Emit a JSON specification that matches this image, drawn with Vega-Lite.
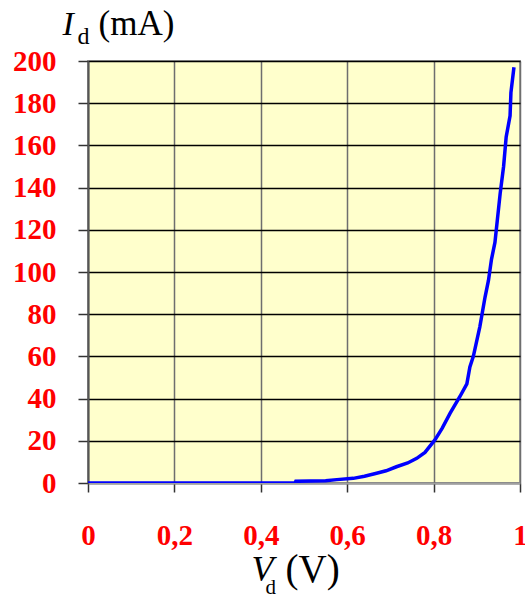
{
  "$schema": "https://vega.github.io/schema/vega-lite/v6.json",
  "width": 432,
  "height": 422,
  "autosize": {"type": "none"},
  "padding": {"left": 88, "top": 61, "right": 5, "bottom": 111},
  "background": "white",
  "config": {
    "view": {"fill": "#FFFFCC", "stroke": "#A0A0A0", "strokeWidth": 2},
    "axis": {"titleFont": "Liberation Serif", "labelFont": "Liberation Serif"}
  },
  "data": {
    "values": [
      {"v": 0, "i": 0},
      {"v": 0.2, "i": 0},
      {"v": 0.4, "i": 0},
      {"v": 0.479, "i": 0},
      {"v": 0.481, "i": 0.8},
      {"v": 0.55, "i": 1.1},
      {"v": 0.576, "i": 1.6},
      {"v": 0.614, "i": 2.2},
      {"v": 0.64, "i": 3.2},
      {"v": 0.668, "i": 4.6},
      {"v": 0.69, "i": 5.8},
      {"v": 0.714, "i": 7.7},
      {"v": 0.74, "i": 9.5},
      {"v": 0.761, "i": 11.7},
      {"v": 0.78, "i": 14.5},
      {"v": 0.803, "i": 20.4},
      {"v": 0.82, "i": 26},
      {"v": 0.838, "i": 33},
      {"v": 0.861, "i": 41},
      {"v": 0.877, "i": 47},
      {"v": 0.884, "i": 55},
      {"v": 0.892, "i": 60},
      {"v": 0.907, "i": 74},
      {"v": 0.919, "i": 88},
      {"v": 0.927, "i": 96},
      {"v": 0.934, "i": 106},
      {"v": 0.942, "i": 114},
      {"v": 0.954, "i": 137},
      {"v": 0.962, "i": 150},
      {"v": 0.968, "i": 164},
      {"v": 0.977, "i": 174},
      {"v": 0.979, "i": 185},
      {"v": 0.986, "i": 197}
    ]
  },
  "resolve": {"scale": {"x": "independent", "y": "independent"}},
  "layer": [
    {
      "mark": {"type": "line", "color": "#0000FF", "strokeWidth": 3.5, "clip": true},
      "encoding": {
        "x": {
          "field": "v", "type": "quantitative",
          "scale": {"domain": [0, 1], "nice": false, "zero": false},
          "axis": {
            "orient": "bottom",
            "values": [0, 0.2, 0.4, 0.6, 0.8, 1],
            "labelExpr": "replace(format(datum.value, '~g'), '.', ',')",
            "labelColor": "#FF0000", "labelFontSize": 29, "labelFontWeight": "bold",
            "labelPadding": 29, "labelBaseline": "top", "labelFlush": false,
            "ticks": true, "tickSize": 9, "tickColor": "#333333", "tickWidth": 1.5,
            "domain": true, "domainColor": "#A0A0A0", "domainWidth": 2,
            "grid": true, "gridColor": "#6E6E6E", "gridWidth": 1.5,
            "title": "V", "titleFontStyle": "italic", "titleFontWeight": "normal", "titleFontSize": 36,
            "titleColor": "black", "titleAlign": "left", "titleBaseline": "alphabetic",
            "titleX": 163, "titleY": 97
          }
        },
        "y": {
          "field": "i", "type": "quantitative",
          "scale": {"domain": [0, 200], "nice": false},
          "axis": {
            "orient": "left",
            "values": [0, 20, 40, 60, 80, 100, 120, 140, 160, 180, 200],
            "labelColor": "#FF0000", "labelFontSize": 29, "labelFontWeight": "bold",
            "labelPadding": 22, "labelFlush": false,
            "ticks": true, "tickSize": 10, "tickColor": "#333333", "tickWidth": 1.5,
            "domain": true, "domainColor": "#555555", "domainWidth": 2,
            "grid": true, "gridColor": "#000000", "gridWidth": 1.3,
            "title": "I", "titleFontStyle": "italic", "titleFontWeight": "normal", "titleFontSize": 34,
            "titleColor": "black", "titleAngle": 0, "titleAlign": "left", "titleBaseline": "alphabetic",
            "titleX": -26, "titleY": -27
          }
        }
      }
    },
    {
      "mark": {"type": "point", "opacity": 0},
      "encoding": {
        "x": {
          "field": "v", "type": "quantitative",
          "scale": {"domain": [0, 1], "nice": false, "zero": false},
          "axis": {
            "orient": "bottom", "labels": false, "ticks": false, "domain": false, "grid": false,
            "title": "d", "titleFontWeight": "normal", "titleFontSize": 21, "titleColor": "black",
            "titleAlign": "left", "titleBaseline": "alphabetic", "titleX": 177, "titleY": 110
          }
        },
        "y": {
          "field": "i", "type": "quantitative",
          "scale": {"domain": [0, 200], "nice": false},
          "axis": {
            "orient": "left", "labels": false, "ticks": false, "domain": false, "grid": false,
            "title": "d", "titleFontWeight": "normal", "titleFontSize": 24, "titleColor": "black",
            "titleAngle": 0, "titleAlign": "left", "titleBaseline": "alphabetic", "titleX": -11, "titleY": -18
          }
        }
      }
    },
    {
      "mark": {"type": "point", "opacity": 0},
      "encoding": {
        "x": {
          "field": "v", "type": "quantitative",
          "scale": {"domain": [0, 1], "nice": false, "zero": false},
          "axis": {
            "orient": "bottom", "labels": false, "ticks": false, "domain": false, "grid": false,
            "title": "(V)", "titleFontWeight": "normal", "titleFontSize": 39, "titleColor": "black",
            "titleAlign": "left", "titleBaseline": "alphabetic", "titleX": 197, "titleY": 98
          }
        },
        "y": {
          "field": "i", "type": "quantitative",
          "scale": {"domain": [0, 200], "nice": false},
          "axis": {
            "orient": "left", "labels": false, "ticks": false, "domain": false, "grid": false,
            "title": "(mA)", "titleFontWeight": "normal", "titleFontSize": 35, "titleColor": "black",
            "titleAngle": 0, "titleAlign": "left", "titleBaseline": "alphabetic", "titleX": 10, "titleY": -27
          }
        }
      }
    }
  ]
}
